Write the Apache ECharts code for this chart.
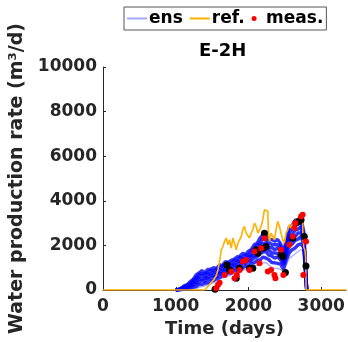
<!DOCTYPE html>
<html>
<head>
<meta charset="utf-8">
<script src="https://cdn.jsdelivr.net/npm/echarts@6/dist/echarts.min.js"></script>
<style>
  html, body { margin: 0; padding: 0; background: #fff; }
  #chart { width: 348px; height: 342px; }
</style>
</head>
<body>
<div id="chart"></div>
<script>
// Time grid (days) shared by all ensemble members
const ensTime = [1000,1040,1080,1120,1160,1200,1240,1280,1320,1360,1400,1440,1480,1520,1560,1600,1640,1680,1720,1760,
  1800,1840,1880,1920,1960,2000,2040,2080,2120,2160,2200,2240,2280,2320,2360,2400,2440,2480,2520,2560,
  2600,2640,2680,2720,2760,2800];

// Ensemble members: water production rate (m3/d)
const ens1 = [0,40,90,200,240,380,470,680,760,870,780,920,930,1000,960,1120,1100,1270,1240,1330,1380,1480,1510,1640,1600,1740,1820,2040,2100,2340,2480,2420,2280,2260,2180,2270,2080,1650,2280,2820,2900,3120,3170,3260,2600,0];
const ens2 = [0,20,95,140,235,290,450,540,710,720,730,770,870,860,930,980,1080,1120,1220,1180,1320,1320,1460,1460,1560,1570,1750,1830,2020,2100,2330,2240,2140,2040,2030,2030,1940,1460,2140,2560,2760,2850,3000,3010,2480,0];
const ens3 = [0,15,60,140,170,270,330,490,560,660,580,720,710,800,780,930,920,1070,1060,1130,1160,1270,1290,1400,1400,1500,1560,1740,1800,1990,2080,2100,1910,1900,1800,1890,1710,1390,1910,2400,2490,2680,2720,2840,2300,0];
const ens4 = [0,10,65,85,160,180,300,350,500,490,530,560,660,650,730,780,880,910,1010,980,1110,1110,1240,1230,1340,1330,1500,1540,1710,1750,1940,1850,1790,1660,1660,1640,1580,1220,1780,2150,2320,2400,2550,2570,2200,0];
const ens5 = [0,5,35,80,95,160,200,300,350,430,390,500,510,590,590,730,740,850,860,930,960,1050,1080,1170,1180,1270,1320,1450,1500,1630,1700,1720,1560,1520,1430,1490,1360,1140,1560,1980,2060,2220,2280,2400,2050,0];
const ens6 = [0,0,25,30,60,70,130,150,240,250,300,320,410,420,500,560,650,670,760,760,860,870,970,980,1070,1080,1190,1220,1330,1360,1480,1430,1360,1230,1220,1190,1160,940,1360,1660,1810,1880,2020,2070,1900,0];
const ens7 = [0,0,5,15,20,40,50,80,110,150,170,230,270,320,370,470,520,580,620,680,720,780,820,880,920,980,1020,1080,1120,1180,1220,1230,1120,1020,980,970,920,810,1120,1420,1510,1620,1720,1820,1700,0];
const ensembleMembers = [ens1, ens2, ens3, ens4, ens5, ens6];
const ensembleOutlier = ens7;

// Reference model response
const refTime = [0,1400,1440,1480,1520,1557,1580,1603,1626,1648,1671,1694,1717,1740,1763,1785,1808,1831,1854,1877,
  1900,1922,1945,1968,1991,2014,2037,2059,2082,2105,2128,2151,2174,2196,2219,2242,2265,2274,2288,2310,
  2333,2356,2379,2401,2425,2447,2470,2493,2516,2539,2562,2584,2607,2630,2653,2676,2699,2721,2740,2750,
  2760,2775,2785,2792,3340];
const refRate = [0,0,150,300,450,650,900,1300,1800,1950,2180,2330,2030,2250,1880,2330,2100,1800,2100,2250,
  2400,2700,2850,2550,2630,2330,2550,2700,3000,2850,2550,2700,2850,3150,3600,3680,3530,2550,2180,2550,
  2400,2250,2700,3080,2850,2550,2250,2100,2550,2700,2930,2780,3000,3080,3150,3080,3230,3300,3340,2300,
  1900,1800,1500,0,0];

// Measurements
const measTime = [1557,1580,1603,1671,1763,1808,1840,1877,1922,1968,2014,2082,2151,2174,2219,2265,2310,2356,2370,2448,
  2479,2562,2607,2630,2644,2722,2744,2753,2790];
const measRate = [77,225,330,675,825,525,675,900,1275,1350,900,1725,1200,1875,2325,825,900,675,525,1800,
  675,2025,2400,2775,3000,3300,3375,675,2175];

// Simulated values at the measurement times
const simTime = [1540,1703,1740,1831,1877,2014,2059,2105,2128,2196,2219,2242,2448,2470,2507,2607,2653,2690,2722,2767,2790];
const simRate = [30,1125,900,525,975,975,975,1800,1650,1875,2550,1950,1575,1500,780,2325,3000,3075,3150,2400,1080];

const xTicks = [0, 1000, 2000, 3000];
const yTicks = [0, 2000, 4000, 6000, 8000, 10000];

const FONT = 'DejaVu Sans';
const AXIS_COLOR = '#262626';
const ENS_COLOR = 'rgba(0,0,255,0.8)';
const ENS_LIGHT = 'rgba(0,0,255,0.35)';
const REF_COLOR = '#FFB000';

const zip = (xs, ys) => xs.map((x, i) => [x, ys[i]]);
const plain = v => String(v);

const ensSeries = (m, color, width) => ({
  name: 'ens',
  type: 'line',
  data: zip(ensTime, m),
  showSymbol: false,
  silent: true,
  lineStyle: { color: color, width: width },
  itemStyle: { color: color },
  z: 2
});

const series = [ensSeries(ensembleOutlier, ENS_LIGHT, 1.2)];
ensembleMembers.forEach(m => series.push(ensSeries(m, ENS_COLOR, 3.4)));
series.push({
  name: 'ref.',
  type: 'line',
  data: zip(refTime, refRate),
  showSymbol: false,
  lineStyle: { color: REF_COLOR, width: 1.6 },
  itemStyle: { color: REF_COLOR },
  z: 3
});
series.push({
  name: 'sim',
  type: 'scatter',
  data: zip(simTime, simRate),
  symbolSize: 7,
  itemStyle: { color: '#000', opacity: 1 },
  z: 4
});
series.push({
  name: 'meas.',
  type: 'scatter',
  data: zip(measTime, measRate),
  symbolSize: 6,
  itemStyle: { color: '#FF0000', opacity: 1 },
  z: 5
});

const chart = echarts.init(document.getElementById('chart'), null, { renderer: 'canvas' });
chart.setOption({
  animation: false,
  backgroundColor: '#fff',
  title: {
    text: 'E-2H',
    left: 199,
    top: 42,
    padding: 0,
    textStyle: { fontFamily: FONT, fontWeight: 'bold', fontSize: 18, color: '#000' }
  },
  legend: {
    data: [
      { name: 'ens', icon: 'path://M0,0h20v2h-20z', itemStyle: { color: 'rgba(0,0,255,0.35)' } },
      { name: 'ref.', icon: 'path://M0,0h20v2h-20z', itemStyle: { color: REF_COLOR } },
      { name: 'meas.', icon: 'circle', itemStyle: { color: '#FF0000', opacity: 1 } }
    ],
    left: 124,
    top: 7,
    itemWidth: 20,
    itemHeight: 5,
    itemGap: 7,
    padding: [3, 3, 3, 3],
    borderColor: '#555',
    borderWidth: 1,
    selectedMode: false,
    textStyle: { fontFamily: FONT, fontWeight: 'bold', fontSize: 17, color: '#000', padding: [0, 0, 0, -3] }
  },
  grid: { left: 103, right: 2, top: 67, bottom: 52, outerBoundsMode: 'none' },
  xAxis: {
    type: 'value',
    min: 0,
    max: 3340,
    interval: 1000,
    name: 'Time (days)',
    nameLocation: 'middle',
    nameGap: 30,
    nameTextStyle: { fontFamily: FONT, fontWeight: 'bold', fontSize: 18, color: AXIS_COLOR },
    axisLine: { show: true, lineStyle: { color: AXIS_COLOR, width: 1 } },
    axisTick: { show: true, inside: true, length: 3, customValues: xTicks, lineStyle: { color: AXIS_COLOR } },
    axisLabel: { customValues: xTicks, formatter: plain, margin: 8, fontFamily: FONT, fontWeight: 'bold', fontSize: 17, color: AXIS_COLOR },
    splitLine: { show: false }
  },
  yAxis: {
    type: 'value',
    min: 0,
    max: 10000,
    interval: 2000,
    name: 'Water production rate (m³/d)',
    nameLocation: 'middle',
    nameRotate: 90,
    nameGap: 70,
    nameTextStyle: { fontFamily: FONT, fontWeight: 'bold', fontSize: 19, color: AXIS_COLOR },
    axisLine: { show: true, lineStyle: { color: AXIS_COLOR, width: 1 } },
    axisTick: { show: true, inside: true, length: 3, customValues: yTicks, lineStyle: { color: AXIS_COLOR } },
    axisLabel: { customValues: yTicks, formatter: plain, margin: 6, fontFamily: FONT, fontWeight: 'bold', fontSize: 17, color: AXIS_COLOR },
    splitLine: { show: false }
  },
  series: series
});
</script>
</body>
</html>
